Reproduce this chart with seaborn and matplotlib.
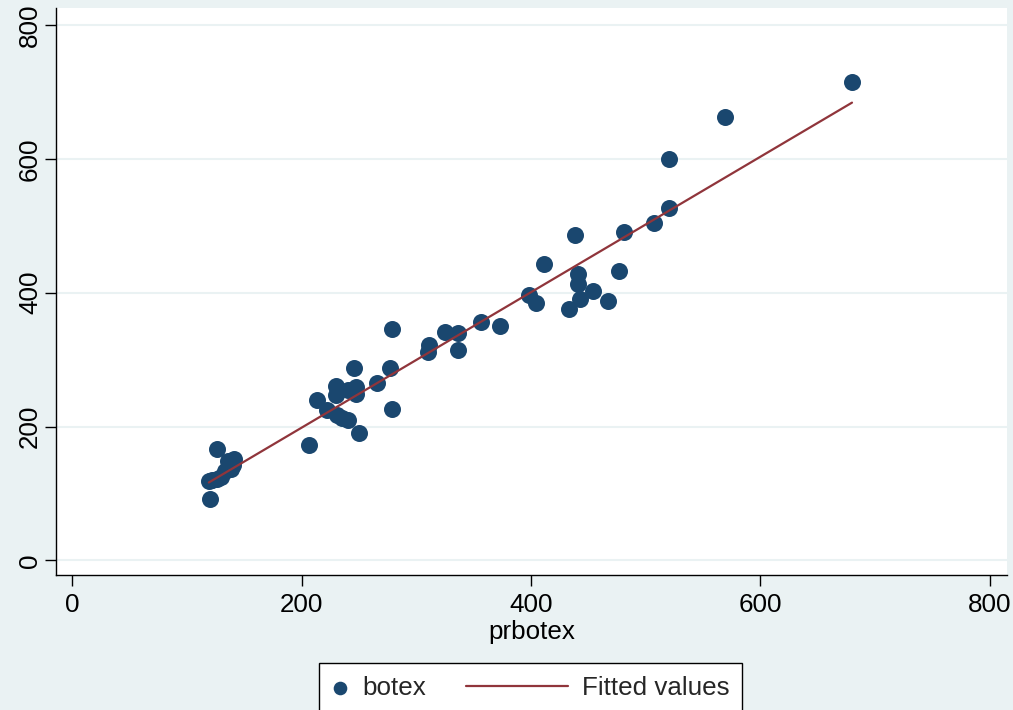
import numpy as np
import pandas as pd
import seaborn as sns
import matplotlib.pyplot as plt
from matplotlib.legend_handler import HandlerLine2D

# values
prbotex = [680, 569, 520, 520, 507, 481, 438, 411, 441, 477, 441, 454, 398, 443,
           404, 467, 433, 373, 356, 325, 336, 336, 311, 310, 279, 246, 277, 266,
           279, 230, 240, 247, 247, 230, 213, 222, 231, 235, 240, 250, 206, 126,
           141, 136, 140, 138, 133, 130, 126, 122, 119, 120]
botex = [715, 663, 600, 527, 504, 491, 487, 443, 428, 432, 413, 403, 397, 390,
         385, 388, 376, 350, 356, 342, 340, 314, 322, 311, 346, 287, 287, 265,
         226, 260, 255, 259, 249, 247, 240, 225, 218, 213, 210, 191, 173, 167,
         152, 148, 143, 137, 133, 125, 122, 120, 118, 92]
x_ticks = [0, 200, 400, 600, 800]
y_ticks = [0, 200, 400, 600, 800]

bg = "#eaf2f3"
navy = "#1a476f"
maroon = "#90353b"
fs = 18.7


class WideLineHandler(HandlerLine2D):
    # Stata draws the line key much wider than the marker key
    def __init__(self, extra, **kw):
        super().__init__(**kw)
        self.extra = extra

    def get_xdata(self, legend, xdescent, ydescent, width, height, fontsize):
        xdata = np.array([-xdescent - self.extra * fontsize, -xdescent + width])
        return xdata, xdata[-1:]


sns.set_theme(style="ticks")
plt.rcParams['font.family'] = ['Liberation Sans', 'DejaVu Sans']

df = pd.DataFrame({"prbotex": prbotex, "botex": botex})

fig = plt.figure(figsize=(10.13, 7.10), dpi=100, facecolor=bg)
ax = fig.add_axes([56 / 1013, 1 - 575 / 710, (1007 - 56) / 1013, (575 - 8) / 710])
ax.set_facecolor("white")

sns.scatterplot(data=df, x="prbotex", y="botex", s=150, color=navy, linewidth=0,
                ax=ax, zorder=3)
sns.regplot(data=df, x="prbotex", y="botex", scatter=False, ci=None, truncate=True,
            color=maroon, line_kws={"lw": 1.6, "zorder": 4}, ax=ax)

ax.set_xlim(-14.3, 815.2)
ax.set_ylim(-21.7, 825.4)
ax.set_xticks(x_ticks)
ax.set_yticks(y_ticks)
ax.set_xlabel("prbotex", fontsize=fs, labelpad=2, color="black")
ax.set_ylabel("")
ax.grid(axis="y", color=bg, lw=1.5)
ax.grid(axis="x", visible=False)
ax.set_axisbelow(True)
for side in ["top", "right"]:
    ax.spines[side].set_visible(False)
for side in ["left", "bottom"]:
    ax.spines[side].set_color("black")
    ax.spines[side].set_linewidth(1)
ax.tick_params(axis="both", length=8, width=1, color="black", labelsize=fs,
               labelcolor="black")
ax.tick_params(axis="x", pad=5)
ax.tick_params(axis="y", pad=2, labelrotation=90)
for lbl in ax.get_yticklabels():
    lbl.set_va("center")

sc = ax.collections[0]
ln = ax.lines[0]
leg = fig.legend([sc, ln], ["botex", "Fitted values"], loc="upper center",
                 bbox_to_anchor=(530.5 / 1013, 1 - 663 / 710), borderaxespad=0,
                 ncol=2, frameon=True, fancybox=False, edgecolor="black",
                 facecolor="white", framealpha=1, fontsize=fs, handlelength=0.65,
                 handletextpad=0.54, columnspacing=4.8, borderpad=0.5,
                 markerscale=0.8, handler_map={ln: WideLineHandler(3.27)})
leg.get_frame().set_linewidth(1)

fig.savefig("out.png", dpi=100, facecolor=fig.get_facecolor())
